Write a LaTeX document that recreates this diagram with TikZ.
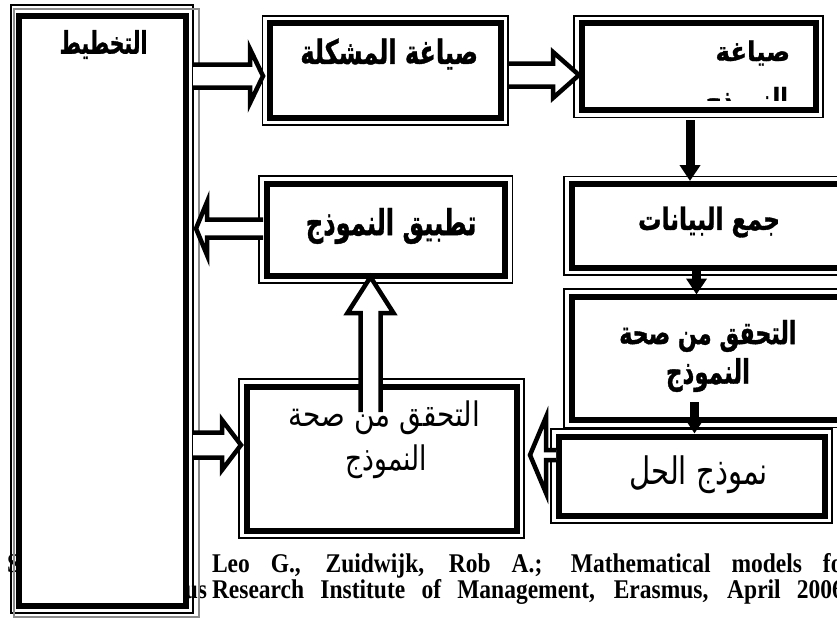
\documentclass[tikz,border=0pt]{standalone}
\usepackage{fontspec}
\usepackage{graphicx}
\setmainfont{Liberation Serif}
\newfontfamily\arabicfont[Script=Arabic, BoldFeatures={FakeBold=1.2}]{DejaVu Sans}
\TeXXeTstate=1
\usetikzlibrary{arrows.meta,calc}
% width (pt), total height (pt), font switch, text
\newcommand\arbox[4]{\resizebox*{#1pt}{#2pt}{\arabicfont#3 #4}}
% name, centre x, centre y, width, height (thick centre line)
\newcommand\dblbox[5]{%
  \node[thickbox, minimum width=#4, minimum height=#5] (#1) at (#2,#3) {};
  \draw[thinframe] ($(#1.north west)+(-7.5,-7.5)$) rectangle ($(#1.south east)+(7.5,7.5)$);
}
\tikzset{
  thickbox/.style={draw=black, line width=6pt, fill=white, inner sep=0pt, outer sep=0pt},
  thinframe/.style={draw=black, line width=1.3pt},
  grayframe/.style={draw=black!45, line width=1.1pt},
  hollow/.style={draw=black, fill=white, line width=4.5pt, line join=miter},
  solidarr/.style={draw=black, line width=9pt, -{Triangle[width=20pt,length=16pt]}},
  lbl/.style={inner sep=0pt, outer sep=0pt},
  eng/.style={inner sep=0pt, outer sep=0pt, anchor=base west, font=\fontsize{23.5}{27}\selectfont\bfseries},
}
\begin{document}
\begin{tikzpicture}[x=1pt,y=-1pt]
\useasboundingbox (0,0) rectangle (837,618);
% source lines (partly hidden by the planning box)
\node[eng] (src1a) at (7,572) {\scalebox{1}[1.15]{S}};
\node[eng] (src1) at (212,572) {\scalebox{1}[1.15]{\makebox[641pt][s]{Leo G., Zuidwijk, Rob A.; Mathematical models for}}};
\node[eng, anchor=base east] (src2a) at (207,598) {\scalebox{1}[1.15]{Erasmus}};
\node[eng] (src2) at (212,598) {\scalebox{1}[1.15]{\makebox[632pt][s]{Research Institute of Management, Erasmus, April 2006}}};

% planning box
\node[thickbox, minimum width=167.5, minimum height=590] (plan) at (102.25,311) {};
\draw[thinframe] (11,5) rectangle (193,613);
\draw[grayframe] (14,9) rectangle (199,617);
\node[lbl] (planT) at (100,44.5) {\arbox{95}{29}{\bfseries}{\beginR التخطيط\endR}};

% other boxes
\dblbox{mushkila}{385.25}{70.5}{230.5}{94}
\node[lbl] (mushkilaT) at (385,54) {\arbox{186}{31}{\bfseries}{\beginR صياغة المشكلة\endR}};

\dblbox{namudhaj}{698.5}{66.75}{234}{86.5}
\node[lbl, anchor=east] (namudhajT) at (790,53) {\arbox{83}{25}{\bfseries}{\beginR صياغة\endR}};
\begin{scope}
  \clip (575,20) rectangle (815,100);
  \node[lbl, anchor=east] (namudhajT2) at (788,104) {\arbox{90}{34}{\bfseries}{\beginR النموذج\endR}};
\end{scope}

\dblbox{jamaa}{710.75}{225.75}{278.5}{83.5}
\node[lbl] (jamaaT) at (705,222) {\arbox{150}{31}{\bfseries}{\beginR جمع البيانات\endR}};

\dblbox{tahaq}{710.75}{358.25}{278.5}{123.5}
\node[lbl] (tahaqT1) at (704,336) {\arbox{185}{32}{\bfseries}{\beginR التحقق من صحة\endR}};
\node[lbl] (tahaqT2) at (704,375) {\arbox{92}{34}{\bfseries}{\beginR النموذج\endR}};

\dblbox{hall}{691.5}{476}{266}{79}
\node[lbl] (hallT) at (694,474.5) {\arbox{148}{38}{}{\beginR نموذج الحل\endR}};

\dblbox{tatbiq}{385.75}{229.5}{238.5}{92}
\node[lbl] (tatbiqT) at (387,226) {\arbox{179}{36}{\bfseries}{\beginR تطبيق النموذج\endR}};

\dblbox{tahaqR}{381.5}{458.5}{270}{144}
\node[lbl] (tahaqRT1) at (380,418) {\arbox{200}{34}{}{\beginR التحقق من صحة\endR}};
\node[lbl] (tahaqRT2) at (382,462) {\arbox{90}{34}{}{\beginR النموذج\endR}};

% solid arrows
\draw[solidarr] ($(namudhaj.south)+(-8.5,10)$) -- ($(namudhaj.south |- jamaa.north)+(-8.5,-3)$);
\draw[solidarr] ($(jamaa.south -| namudhaj.south)+(-2,-2)$) -- ($(tahaq.north -| namudhaj.south)+(-2,-2)$);
\draw[solidarr] ($(tahaq.south -| namudhaj.south)+(-4,-18)$) -- ($(hall.north -| namudhaj.south)+(-4,-3)$);

% hollow arrows
\filldraw[hollow] (193,64.5) -- (250,64.5) -- (250,49) -- (263,76) -- (250,103) -- (250,87.5) -- (193,87.5);
\filldraw[hollow] (509,63.5) -- (553,63.5) -- (553,52) -- (579,75) -- (553,98) -- (553,86.5) -- (509,86.5);
\filldraw[hollow] (263,219.5) -- (207,219.5) -- (207,202) -- (196,228.5) -- (207,255) -- (207,237.5) -- (263,237.5);
\filldraw[hollow] (193,432.5) -- (222,432.5) -- (222,420) -- (241,445) -- (222,470) -- (222,457.5) -- (193,457.5);
\filldraw[hollow] (360.5,412) -- (360.5,313) -- (347.5,313) -- (370.5,277) -- (393.5,313) -- (380.5,313) -- (380.5,412);
\filldraw[hollow] (556,450) -- (546,450) -- (546,417) -- (530,455) -- (546,493) -- (546,460) -- (556,460);
\end{tikzpicture}
\end{document}
